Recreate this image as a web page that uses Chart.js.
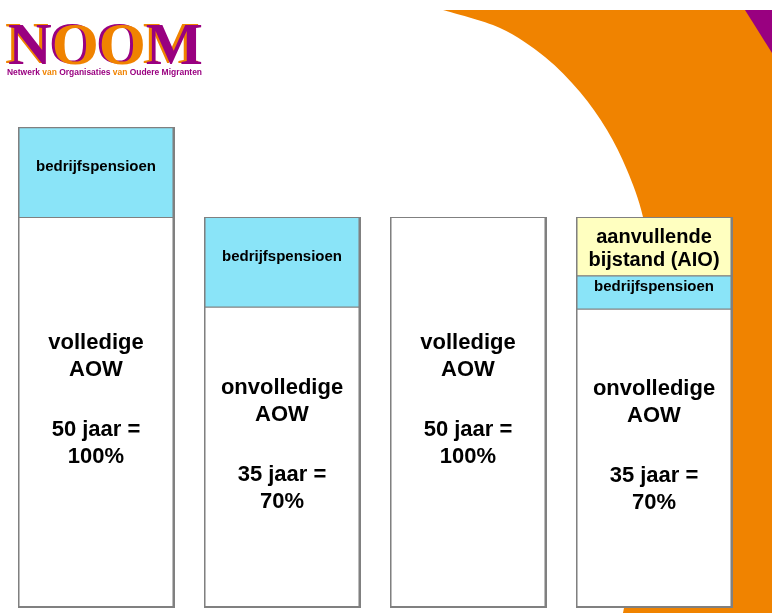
<!DOCTYPE html>
<html>
<head>
    <meta charset="utf-8">
    <title>AOW en aanvullingen</title>
    <style>
        html, body { margin: 0; padding: 0; background: #fff; }
        #wrap { position: relative; width: 772px; height: 613px; }
    </style>
</head>
<body>
    <div id="wrap"><canvas id="myChart1"></canvas></div>
    <script src="https://cdn.jsdelivr.net/npm/chart.js@4.4.6/dist/chart.umd.min.js"></script>
    <script>
        // data (1 unit ~ 3.9 px, full AOW bar = 100)
        const categories = ["volledige AOW", "onvolledige AOW", "volledige AOW", "onvolledige AOW + AIO"]
        const aowValues = [100, 77, 100, 76.5]
        const pensioenValues = [23, 23, null, 8.5]
        const aioValues = [null, null, null, 15]

        const aowLabels = [
            ["volledige", "AOW", "", "50 jaar =", "100%"],
            ["onvolledige", "AOW", "", "35 jaar =", "70%"],
            ["volledige", "AOW", "", "50 jaar =", "100%"],
            ["onvolledige", "AOW", "", "35 jaar =", "70%"],
        ]
        const pensioenLabels = [["bedrijfspensioen"], ["bedrijfspensioen"], [], ["bedrijfspensioen"]]
        const aioLabels = [[], [], [], ["aanvullende", "bijstand (AIO)"]]

        const COLORS = {
            orange: "rgb(240, 131, 0)",
            purple: "rgb(153, 0, 128)",
            blue: "rgb(138, 228, 248)",
            yellow: "rgb(255, 255, 192)",
            border: "rgb(128, 128, 128)",
        }

        // orange swoosh + purple corner + NOOM logo behind the bars
        const background = {
            id: "background",
            beforeDraw(chart) {
                const ctx = chart.ctx
                ctx.save()
                ctx.fillStyle = "#fff"
                ctx.fillRect(0, 0, chart.width, chart.height)

                const pts = [[443, 10], [500, 28], [545, 57], [580, 92], [607, 130], [627, 170],
                    [643, 217], [655, 290], [660, 380], [652, 480], [623, 613]]
                ctx.beginPath()
                ctx.moveTo(pts[0][0], pts[0][1])
                for (let i = 0; i < pts.length - 1; i++) {
                    const p0 = pts[i - 1] || pts[i], p1 = pts[i], p2 = pts[i + 1], p3 = pts[i + 2] || p2
                    ctx.bezierCurveTo(
                        p1[0] + (p2[0] - p0[0]) / 6, p1[1] + (p2[1] - p0[1]) / 6,
                        p2[0] - (p3[0] - p1[0]) / 6, p2[1] - (p3[1] - p1[1]) / 6,
                        p2[0], p2[1])
                }
                ctx.lineTo(772, 613)
                ctx.lineTo(772, 10)
                ctx.closePath()
                ctx.fillStyle = COLORS.orange
                ctx.fill()

                ctx.beginPath()
                ctx.moveTo(745, 10)
                ctx.lineTo(772, 10)
                ctx.lineTo(772, 53)
                ctx.closePath()
                ctx.fillStyle = COLORS.purple
                ctx.fill()

                // logo
                const letters = [["N", COLORS.purple, COLORS.orange], ["O", COLORS.orange, COLORS.purple],
                    ["O", COLORS.orange, COLORS.purple], ["M", COLORS.purple, COLORS.orange]]
                ctx.font = 'bold 60px "Liberation Serif"'
                ctx.textBaseline = "alphabetic"
                ctx.textAlign = "left"
                const total = letters.reduce((s, l) => s + ctx.measureText(l[0]).width, 0)
                ctx.save()
                ctx.translate(8, 64)
                ctx.scale(195 / total, 1)
                let x = 0
                letters.forEach(([ch, main, shadow]) => {
                    ctx.fillStyle = shadow
                    ctx.fillText(ch, x - 3, -1)
                    ctx.fillStyle = main
                    ctx.fillText(ch, x, 0)
                    x += ctx.measureText(ch).width
                })
                ctx.restore()

                const words = [["Netwerk ", COLORS.purple], ["van ", COLORS.orange], ["Organisaties ", COLORS.purple],
                    ["van ", COLORS.orange], ["Oudere Migranten", COLORS.purple]]
                ctx.font = 'bold 9px "Liberation Sans"'
                ctx.textBaseline = "middle"
                const w = words.reduce((s, t) => s + ctx.measureText(t[0]).width, 0)
                ctx.save()
                ctx.translate(7, 73)
                ctx.scale(195 / w, 1)
                x = 0
                words.forEach(([t, c]) => {
                    ctx.fillStyle = c
                    ctx.fillText(t, x, 0)
                    x += ctx.measureText(t).width
                })
                ctx.restore()
                ctx.restore()
            },
        }

        // grey backing + small drop shadow under each whole stacked column
        const columnShadow = {
            id: "columnShadow",
            beforeDatasetsDraw(chart) {
                const ctx = chart.ctx
                const n = chart.data.labels.length
                ctx.save()
                ctx.fillStyle = COLORS.border
                for (let i = 0; i < n; i++) {
                    let top = Infinity, base = -Infinity, left = 0, right = 0
                    chart.data.datasets.forEach((ds, di) => {
                        if (ds.data[i] == null) return
                        const bar = chart.getDatasetMeta(di).data[i]
                        top = Math.min(top, bar.y)
                        base = Math.max(base, bar.base)
                        left = bar.x - bar.width / 2
                        right = bar.x + bar.width / 2
                    })
                    const l = Math.floor(left), t = Math.floor(top)
                    ctx.fillRect(l, t, Math.ceil(right) - l + 1, Math.ceil(base) - t + 1)
                }
                ctx.restore()
            },
        }

        // text inside every bar segment; a blank line counts as a wider gap
        const segmentText = {
            id: "segmentText",
            afterDatasetsDraw(chart) {
                const ctx = chart.ctx
                ctx.save()
                ctx.fillStyle = "#000"
                ctx.textAlign = "center"
                ctx.textBaseline = "middle"
                chart.data.datasets.forEach((ds, di) => {
                    const meta = chart.getDatasetMeta(di)
                    ctx.font = ds.textFont
                    meta.data.forEach((bar, i) => {
                        const lines = ds.texts[i] || []
                        if (!lines.length || ds.data[i] == null) return
                        const ys = []
                        let y = 0
                        lines.forEach((line, k) => {
                            if (line === "") { y += ds.blankHeight; return }
                            ys.push([line, y])
                            y += ds.lineHeight
                        })
                        const h = ys[ys.length - 1][1]
                        const cy = (bar.y + bar.base) / 2 + ds.textShift
                        ys.forEach(([line, yy]) => ctx.fillText(line, bar.x, cy - h / 2 + yy))
                    })
                })
                ctx.restore()
            },
        }

        const config = {
            type: "bar",
            data: {
                labels: categories,
                datasets: [
                    {
                        label: "AOW",
                        data: aowValues,
                        backgroundColor: "#fff",
                        borderColor: COLORS.border,
                        borderWidth: 1,
                        borderSkipped: false,
                        texts: aowLabels,
                        textFont: 'bold 22px "Liberation Sans"',
                        lineHeight: 27,
                        blankHeight: 33,
                        textShift: -12,
                    },
                    {
                        label: "bedrijfspensioen",
                        data: pensioenValues,
                        backgroundColor: COLORS.blue,
                        borderColor: COLORS.border,
                        borderWidth: 1,
                        borderSkipped: "bottom",
                        texts: pensioenLabels,
                        textFont: 'bold 15px "Liberation Sans"',
                        lineHeight: 18,
                        blankHeight: 0,
                        textShift: -5,
                    },
                    {
                        label: "aanvullende bijstand (AIO)",
                        data: aioValues,
                        backgroundColor: COLORS.yellow,
                        borderColor: COLORS.border,
                        borderWidth: 1,
                        borderSkipped: "bottom",
                        texts: aioLabels,
                        textFont: 'bold 20px "Liberation Sans"',
                        lineHeight: 23,
                        blankHeight: 0,
                        textShift: 3,
                    },
                ],
            },
            options: {
                responsive: true,
                maintainAspectRatio: false,
                animation: false,
                layout: { padding: { left: 3, right: 25, top: 22, bottom: 6 } },
                datasets: { bar: { categoryPercentage: 1, barPercentage: 0.833 } },
                plugins: {
                    legend: { display: false },
                    tooltip: { enabled: false },
                },
                scales: {
                    x: { display: false, stacked: true },
                    y: { display: false, stacked: true, min: 0, max: 150 },
                },
            },
            plugins: [background, columnShadow, segmentText],
        }
        new Chart(document.getElementById("myChart1"), config)
    </script>
</body>
</html>
